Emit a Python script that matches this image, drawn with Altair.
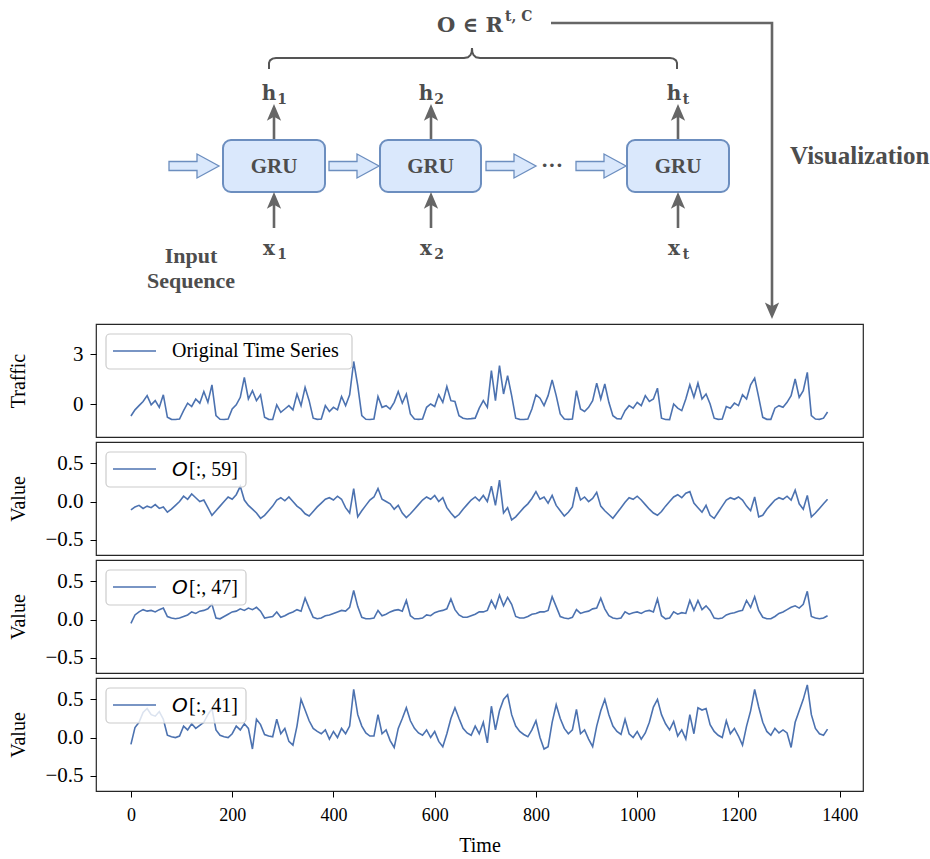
import altair as alt
import pandas as pd

BLUE = "#4c72b0"
SERIF = "Liberation Serif"
MATH = "DejaVu Serif"
INK = "#4d4d4d"
GRAY = "#666666"
BOX_FILL = "#dae8fc"
BOX_STROKE = "#6c8ebf"

# ---------------- data ----------------
times = list(range(0, 1377, 8))

traffic = [
    -0.72, -0.35, -0.10, 0.15, 0.50, -0.05, 0.20, -0.20, 0.55, -0.80,
    -0.92, -0.93, -0.90, -0.40, 0.05, -0.15, 0.30, 0.05, 0.75, 0.10,
    1.15, -0.70, -0.92, -0.93, -0.90, -0.30, -0.05, 0.40, 1.60, 0.30,
    0.80, 0.20, 0.55, -0.80, -0.92, -0.93, -0.05, -0.50, -0.30, -0.10,
    -0.35, 0.60, -0.10, 1.00, 0.20, -0.85, -0.92, -0.90, -0.10, -0.45,
    -0.20, -0.35, 0.45, -0.10, 0.55, 2.55, 1.10, -0.70, -0.92, -0.93,
    -0.90, 0.45, -0.20, -0.10, -0.30, 0.10, 0.75, 0.05, 0.60, -0.60,
    -0.90, -0.92, -0.90, -0.20, 0.00, -0.15, 0.55, 0.10, 1.05, 0.20,
    0.15, -0.70, -0.85, -0.90, -0.88, -0.85, -0.25, 0.20, -0.20, 2.00,
    0.20, 2.30, 0.60, 1.70, 0.50, -0.85, -0.92, -0.93, -0.90, -0.30,
    0.55, 0.35, -0.10, 0.50, 1.45, 0.50, -0.60, -0.90, -0.92, -0.90,
    0.80, -0.30, -0.45, -0.20, 0.20, 1.25, 0.30, 1.20, 0.10, -0.70,
    -0.88, -0.90, -0.40, -0.10, -0.25, 0.10, -0.10, 0.50, 0.15, 0.30,
    0.95, -0.85, -0.93, -0.94, 0.00, -0.25, -0.40, 0.30, 1.15, 0.40,
    1.25, 0.30, 0.60, 0.00, -0.85, -0.92, -0.90, -0.15, -0.25, 0.05,
    -0.10, 0.55, 0.30, 1.15, 1.55, 0.40, -0.80, -0.92, -0.92, -0.25,
    -0.10, -0.20, 0.10, 0.50, 1.50, 0.40, 0.80, 1.90, -0.70, -0.90,
    -0.92, -0.85, -0.48,
]

o59 = [
    -0.11, -0.07, -0.05, -0.09, -0.06, -0.08, -0.04, -0.09, -0.07, -0.14,
    -0.10, -0.05, 0.00, 0.07, 0.03, 0.10, 0.05, 0.00, 0.02, -0.08,
    -0.18, -0.12, -0.06, 0.00, 0.06, 0.03, 0.09, 0.20, 0.02, -0.05,
    -0.10, -0.15, -0.22, -0.18, -0.12, -0.06, 0.02, 0.05, 0.01, 0.06,
    0.00, -0.06, -0.10, -0.16, -0.19, -0.13, -0.07, -0.02, 0.03, 0.05,
    0.02, 0.07, 0.03, -0.08, -0.15, 0.17, -0.20, -0.12, -0.05, 0.02,
    0.06, 0.17, 0.03, 0.00, -0.03, -0.10, -0.05, -0.15, -0.21, -0.16,
    -0.10, -0.04, 0.02, 0.06, 0.03, 0.08, 0.00, 0.05, -0.08, -0.15,
    -0.21, -0.17, -0.10, -0.04, 0.02, 0.06, 0.01, 0.08, 0.00, 0.20,
    -0.05, 0.28, -0.15, -0.08, -0.24, -0.20, -0.14, -0.08, -0.03, 0.04,
    0.13, 0.03, 0.06, -0.02, 0.08, -0.05, -0.12, -0.19, -0.14, -0.07,
    0.19, 0.02, 0.06, 0.00, 0.04, 0.12, -0.06, -0.12, -0.17, -0.22,
    -0.15, -0.08, -0.01, 0.05, 0.03, 0.07, 0.02, -0.04, -0.10, -0.15,
    -0.18, -0.13, -0.06, 0.00, 0.06, 0.09, 0.05, 0.11, 0.13, -0.02,
    -0.08, -0.14, -0.05, -0.18, -0.22, -0.14, -0.06, 0.02, 0.05, 0.03,
    0.06, 0.02, -0.06, -0.12, 0.06, -0.20, -0.18, -0.10, -0.04, 0.02,
    0.05, 0.03, 0.07, 0.02, 0.15, -0.03, -0.10, 0.08, -0.20, -0.15,
    -0.09, -0.03, 0.03,
]

o47 = [
    -0.05, 0.06, 0.10, 0.13, 0.11, 0.12, 0.10, 0.13, 0.15, 0.04,
    0.02, 0.01, 0.02, 0.04, 0.06, 0.10, 0.08, 0.11, 0.12, 0.14,
    0.20, 0.02, 0.01, 0.04, 0.07, 0.10, 0.11, 0.14, 0.12, 0.15,
    0.13, 0.16, 0.11, 0.02, 0.03, 0.04, 0.10, 0.03, 0.05, 0.08,
    0.10, 0.13, 0.11, 0.28, 0.15, 0.03, 0.01, 0.02, 0.05, 0.06,
    0.08, 0.10, 0.12, 0.11, 0.16, 0.38, 0.17, 0.03, 0.01, 0.01,
    0.02, 0.12, 0.05, 0.07, 0.10, 0.12, 0.13, 0.11, 0.25, 0.05,
    0.01, 0.01, 0.02, 0.06, 0.05, 0.09, 0.11, 0.12, 0.14, 0.27,
    0.13, 0.06, 0.03, 0.03, 0.05, 0.07, 0.10, 0.10, 0.12, 0.25,
    0.15, 0.32, 0.18, 0.29, 0.20, 0.04, 0.02, 0.02, 0.04, 0.07,
    0.08, 0.10, 0.10, 0.12, 0.30, 0.17, 0.04, 0.02, 0.01, 0.03,
    0.13, 0.08, 0.10, 0.11, 0.14, 0.15, 0.28, 0.14, 0.05, 0.02,
    0.01, 0.02, 0.10, 0.07, 0.09, 0.10, 0.08, 0.11, 0.12, 0.10,
    0.27, 0.05, 0.01, 0.02, 0.10, 0.07, 0.09, 0.08, 0.25, 0.12,
    0.25, 0.13, 0.18, 0.12, 0.02, 0.01, 0.02, 0.06, 0.08, 0.09,
    0.11, 0.12, 0.25, 0.16, 0.30, 0.12, 0.03, 0.01, 0.01, 0.04,
    0.08, 0.10, 0.13, 0.16, 0.18, 0.15, 0.20, 0.37, 0.04, 0.02,
    0.01, 0.02, 0.05,
]

o41 = [
    -0.09, 0.13, 0.20, 0.33, 0.38, 0.30, 0.28, 0.34, 0.24, 0.03,
    0.01, 0.00, 0.02, 0.15, 0.10, 0.18, 0.12, 0.16, 0.20, 0.30,
    0.38, 0.10, 0.03, 0.01, 0.00, 0.05, 0.15, 0.10, 0.18, 0.12,
    -0.15, 0.24, 0.17, 0.04, 0.02, 0.01, 0.24, 0.05, 0.12, -0.05,
    -0.10, 0.15, 0.50, 0.36, 0.22, 0.12, 0.08, 0.05, 0.10, -0.02,
    0.08, 0.00, 0.12, 0.05, 0.15, 0.63, 0.30, 0.15, 0.06, 0.02,
    0.02, 0.30, 0.05, 0.10, -0.04, -0.13, 0.12, 0.25, 0.39, 0.22,
    0.12, 0.06, 0.03, 0.10, 0.00, 0.08, -0.05, -0.12, 0.05, 0.25,
    0.39, 0.25, 0.12, 0.06, 0.03, 0.15, 0.05, 0.20, -0.07, 0.41,
    0.10, 0.35, 0.50, 0.56, 0.30, 0.15, 0.08, 0.04, 0.01, 0.10,
    0.22, 0.00, -0.15, -0.12, 0.20, 0.43, 0.25, 0.12, 0.05, 0.10,
    0.37, 0.05, 0.10, -0.02, -0.12, 0.15, 0.35, 0.50, 0.30, 0.15,
    0.08, 0.04, 0.24, 0.05, 0.00, 0.08, -0.02, 0.06, 0.20, 0.40,
    0.50, 0.30, 0.18, 0.10, 0.21, 0.02, 0.10, -0.02, 0.30, 0.05,
    0.39, 0.36, 0.38, 0.17, 0.08, 0.03, 0.00, 0.22, 0.05, 0.12,
    0.02, -0.10, 0.15, 0.35, 0.63, 0.40, 0.20, 0.08, 0.03, 0.12,
    0.06, 0.10, 0.06, -0.13, 0.20, 0.35, 0.50, 0.69, 0.30, 0.12,
    0.05, 0.03, 0.11,
]

assert all(len(s) == len(times) for s in (traffic, o59, o47, o41))

x_ticks = [0, 200, 400, 600, 800, 1000, 1200, 1400]
legend_italic = ["", "O", "O", "O"]
legend_rest = ["Original Time Series", "[:, 59]", "[:, 47]", "[:, 41]"]
y_titles = ["Traffic", "Value", "Value", "Value"]

# ---------------- layout constants ----------------
W = 767
H = 113
DH = 318
XDOM = [-69, 1446]

# ---------------- diagram ----------------
XS = alt.Scale(domain=[97, 864], nice=False, zero=False)
YS = alt.Scale(domain=[0, DH], nice=False, zero=False, reverse=True)


def xq(f):
    return alt.X(f"{f}:Q", scale=XS, axis=None)


def yq(f):
    return alt.Y(f"{f}:Q", scale=YS, axis=None)


boxes = pd.DataFrame({"x": [224, 381, 628], "x2": [326, 482, 730],
                      "y": [139, 139, 139], "y2": [191, 191, 191]})
box_layer = alt.Chart(boxes).mark_rect(
    cornerRadius=8, fill=BOX_FILL, stroke=BOX_STROKE, strokeWidth=2
).encode(x=xq("x"), x2="x2:Q", y=yq("y"), y2="y2:Q")

BLOCK = "M-1,-0.18L0.12,-0.18L0.12,-0.48L1,0L0.12,0.48L0.12,0.18L-1,0.18Z"
blocks = pd.DataFrame({"x": [195, 355, 512, 602], "y": [165, 165, 165, 165]})
block_layer = alt.Chart(blocks).mark_point(
    shape=BLOCK, size=2500, filled=True, color=BOX_FILL, fill=BOX_FILL,
    stroke=BOX_STROKE, strokeWidth=1.3, opacity=1
).encode(x=xq("x"), y=yq("y"))

shafts = pd.DataFrame({"x": [275, 432, 679, 275, 432, 679],
                       "y": [139, 139, 139, 227, 227, 227],
                       "y2": [114, 114, 114, 202, 202, 202]})
shaft_layer = alt.Chart(shafts).mark_rule(color=GRAY, strokeWidth=2.6).encode(
    x=xq("x"), y=yq("y"), y2="y2:Q")

conn = pd.DataFrame({"k": [0, 1, 2], "x": [552, 773, 773], "y": [22, 22, 306]})
conn_layer = alt.Chart(conn).mark_line(color=GRAY, strokeWidth=2.6, strokeJoin="miter").encode(
    x=xq("x"), y=yq("y"), order="k:Q")

brace_pts = [(270, 68), (270, 62), (271, 59.5), (273.5, 57.6), (277, 57), (465, 57),
             (469, 56.2), (471.5, 54), (472.7, 51), (473, 47), (473.3, 51), (474.5, 54),
             (477, 56.2), (481, 57), (671, 57), (674.5, 57.6), (677, 59.5), (678, 62), (678, 68)]
brace = pd.DataFrame({"k": list(range(len(brace_pts))),
                      "x": [p[0] for p in brace_pts], "y": [p[1] for p in brace_pts]})
brace_layer = alt.Chart(brace).mark_line(color="#555555", strokeWidth=2).encode(
    x=xq("x"), y=yq("y"), order="k:Q")

UP = "M0,-1L0.75,0.75L0,0.35L-0.75,0.75Z"
DOWN = "M0,1L0.75,-0.75L0,-0.35L-0.75,-0.75Z"
heads_up = pd.DataFrame({"x": [275, 432, 679, 275, 432, 679],
                         "y": [112.5, 112.5, 112.5, 200.5, 200.5, 200.5]})
up_layer = alt.Chart(heads_up).mark_point(
    shape=UP, size=361, filled=True, color=GRAY, opacity=1, strokeWidth=0
).encode(x=xq("x"), y=yq("y"))
heads_down = pd.DataFrame({"x": [773], "y": [308.5]})
down_layer = alt.Chart(heads_down).mark_point(
    shape=DOWN, size=361, filled=True, color=GRAY, opacity=1, strokeWidth=0
).encode(x=xq("x"), y=yq("y"))

texts = [
    dict(text="GRU", x=275, y=172, size=21, font=SERIF, align="center"),
    dict(text="GRU", x=431.5, y=172, size=21, font=SERIF, align="center"),
    dict(text="GRU", x=679, y=172, size=21, font=SERIF, align="center"),
    dict(text="Input", x=192, y=262, size=22, font=SERIF, align="center"),
    dict(text="Sequence", x=192, y=287, size=22, font=SERIF, align="center"),
    dict(text="Visualization", x=791, y=163, size=25, font=SERIF, align="left"),
    dict(text="···", x=553, y=171, size=22, font=SERIF, align="center"),
    dict(text="O ∈ R", x=504, y=31, size=21, font=MATH, align="right"),
    dict(text="t, C", x=506, y=20, size=14, font=MATH, align="left"),
    dict(text="h", x=270, y=99, size=20, font=MATH, align="center"),
    dict(text="1", x=283, y=103, size=14, font=MATH, align="center"),
    dict(text="h", x=427, y=99, size=20, font=MATH, align="center"),
    dict(text="2", x=440, y=103, size=14, font=MATH, align="center"),
    dict(text="h", x=675, y=99, size=20, font=MATH, align="center"),
    dict(text="t", x=687, y=103, size=14, font=MATH, align="center"),
    dict(text="x", x=270, y=254, size=20, font=MATH, align="center"),
    dict(text="1", x=283, y=258, size=14, font=MATH, align="center"),
    dict(text="x", x=427, y=254, size=20, font=MATH, align="center"),
    dict(text="2", x=440, y=258, size=14, font=MATH, align="center"),
    dict(text="x", x=675, y=254, size=20, font=MATH, align="center"),
    dict(text="t", x=687, y=258, size=14, font=MATH, align="center"),
]
text_layers = []
for t in texts:
    text_layers.append(
        alt.Chart(pd.DataFrame([{"x": t["x"], "y": t["y"], "text": t["text"]}])).mark_text(
            font=t["font"], fontSize=t["size"], fontWeight="bold", align=t["align"],
            baseline="alphabetic", color=INK
        ).encode(x=xq("x"), y=yq("y"), text="text:N")
    )

diagram = alt.layer(
    brace_layer, conn_layer, shaft_layer, box_layer, block_layer, up_layer, down_layer,
    *text_layers
).properties(width=W, height=DH, view=alt.ViewBackground(stroke="transparent"))


# ---------------- panels ----------------
def panel(values, italic, rest, box_w, ydom, yvals, fmt, ytitle, bottom):
    df = pd.DataFrame({"Time": times, "Value": values})
    xscale = alt.Scale(domain=XDOM, nice=False, zero=False)
    if bottom:
        xenc = alt.X("Time:Q", scale=xscale, axis=alt.Axis(
            values=x_ticks, format="d", title="Time", labelFont=SERIF, labelFontSize=18,
            labelColor="black", titleFont=SERIF, titleFontSize=20, titleFontWeight="normal",
            titleColor="black", tickColor="black", tickSize=6, tickWidth=1, labelPadding=9,
            titlePadding=11, domain=False, grid=False, labelFlush=False))
    else:
        xenc = alt.X("Time:Q", scale=xscale, axis=None)
    yaxis = alt.Axis(
        values=yvals, format=fmt, title=ytitle, titleX=-68, titleY=H / 2, titleAngle=270,
        titleAlign="center", titleBaseline="bottom", titleFont=SERIF, titleFontSize=20,
        titleFontWeight="normal", titleColor="black", labelFont=SERIF, labelFontSize=21,
        labelColor="black", tickColor="black", tickSize=6, tickWidth=1, labelPadding=7,
        domain=False, grid=False)
    line = alt.Chart(df).mark_line(color=BLUE, strokeWidth=1.6).encode(
        x=xenc, y=alt.Y("Value:Q", scale=alt.Scale(domain=ydom, nice=False, zero=False), axis=yaxis))
    lg = pd.DataFrame({"italic": [italic], "rest": [rest]})
    box = alt.Chart(lg).mark_rect(
        fill="white", fillOpacity=0.8, stroke="#cccccc", strokeWidth=1.2, cornerRadius=4
    ).encode(x=alt.value(10), x2=alt.value(10 + box_w), y=alt.value(10), y2=alt.value(45))
    sym = alt.Chart(lg).mark_rule(color=BLUE, strokeWidth=1.5).encode(
        x=alt.value(17), x2=alt.value(60), y=alt.value(27))
    layers = [line, box, sym]
    if italic:
        layers.append(alt.Chart(lg).mark_text(
            font="DejaVu Sans", fontStyle="italic", fontSize=20, align="left",
            baseline="alphabetic", color="black").encode(
            x=alt.value(76), y=alt.value(34), text="italic:N"))
        layers.append(alt.Chart(lg).mark_text(
            font=SERIF, fontSize=20, align="left", baseline="alphabetic", color="black").encode(
            x=alt.value(93), y=alt.value(34), text="rest:N"))
    else:
        layers.append(alt.Chart(lg).mark_text(
            font=SERIF, fontSize=20, align="left", baseline="alphabetic", color="black").encode(
            x=alt.value(76), y=alt.value(33), text="rest:N"))
    return alt.layer(*layers).properties(width=W, height=H)


VDOM = [-0.70, 0.78]
VTICKS = [-0.5, 0.0, 0.5]
p1 = panel(traffic, legend_italic[0], legend_rest[0], 246, [-1.98, 4.8], [0, 3], "d", y_titles[0], False)
p2 = panel(o59, legend_italic[1], legend_rest[1], 140, VDOM, VTICKS, ".1f", y_titles[1], False)
p3 = panel(o47, legend_italic[2], legend_rest[2], 140, VDOM, VTICKS, ".1f", y_titles[2], False)
p4 = panel(o41, legend_italic[3], legend_rest[3], 140, VDOM, VTICKS, ".1f", y_titles[3], True)

chart = alt.vconcat(diagram, p1, p2, p3, p4, spacing=3).properties(
    padding={"left": 7, "top": 0, "right": 0, "bottom": 0},
    background="white",
).configure(font=SERIF).configure_view(stroke="#262626", strokeWidth=1.2)

chart.save("out.html", embed_options={"renderer": "svg", "actions": False})
